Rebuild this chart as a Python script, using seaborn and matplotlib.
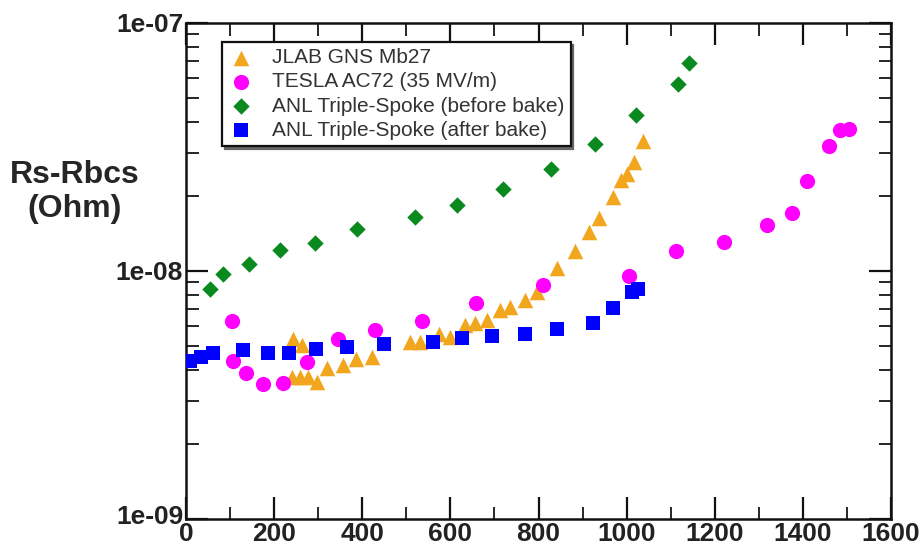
import numpy as np
import pandas as pd
import matplotlib
matplotlib.use("Agg")
import matplotlib.pyplot as plt
import matplotlib.transforms as mtransforms
from matplotlib.ticker import MultipleLocator, LogLocator, FixedLocator, FixedFormatter, NullFormatter
import seaborn as sns

# ---------------- data ----------------
jlab_x = [243, 263, 241, 259, 277, 297, 320, 356, 386, 422, 508, 531, 574, 599, 633, 656,
          683, 713, 735, 769, 797, 842, 883, 915, 937, 969, 987, 1001, 1017, 1037]
jlab_y = [5.32e-9, 5.03e-9, 3.74e-9, 3.74e-9, 3.74e-9, 3.57e-9, 4.06e-9, 4.18e-9, 4.42e-9,
          4.50e-9, 5.18e-9, 5.18e-9, 5.57e-9, 5.42e-9, 6.05e-9, 6.17e-9, 6.34e-9, 6.96e-9,
          7.16e-9, 7.64e-9, 8.23e-9, 1.028e-8, 1.205e-8, 1.436e-8, 1.636e-8, 1.988e-8,
          2.33e-8, 2.46e-8, 2.75e-8, 3.34e-8]

tesla_x = [104, 107, 136, 175, 220, 275, 345, 429, 536, 658, 810, 1005, 1112, 1221, 1319,
           1375, 1409, 1459, 1484, 1505]
tesla_y = [6.29e-9, 4.34e-9, 3.88e-9, 3.50e-9, 3.53e-9, 4.29e-9, 5.32e-9, 5.78e-9, 6.29e-9,
           7.43e-9, 8.79e-9, 9.55e-9, 1.205e-8, 1.31e-8, 1.53e-8, 1.71e-8, 2.31e-8, 3.19e-8,
           3.71e-8, 3.74e-8]

anl_before_x = [54, 84, 143, 213, 293, 388, 520, 615, 719, 828, 928, 1021, 1117, 1142]
anl_before_y = [8.46e-9, 9.72e-9, 1.067e-8, 1.216e-8, 1.297e-8, 1.476e-8, 1.651e-8,
                1.846e-8, 2.14e-8, 2.58e-8, 3.25e-8, 4.26e-8, 5.67e-8, 6.90e-8]

anl_after_x = [9, 34, 61, 129, 186, 234, 295, 365, 449, 561, 626, 694, 769, 842, 924,
               969, 1012, 1026]
anl_after_y = [4.33e-9, 4.50e-9, 4.67e-9, 4.80e-9, 4.67e-9, 4.67e-9, 4.84e-9, 4.94e-9,
               5.08e-9, 5.18e-9, 5.37e-9, 5.47e-9, 5.57e-9, 5.84e-9, 6.17e-9, 7.09e-9,
               8.23e-9, 8.46e-9]

series_labels = ["JLAB GNS Mb27", "TESLA AC72 (35 MV/m)",
                 "ANL Triple-Spoke (before bake)", "ANL Triple-Spoke (after bake)"]
y_tick_values = [1e-9, 1e-8, 1e-7]
y_tick_labels = ["1e-09", "1e-08", "1e-07"]
y_title = "Rs-Rbcs\n(Ohm)"

# ---------------- styling ----------------
series_x = [jlab_x, tesla_x, anl_before_x, anl_after_x]
series_y = [jlab_y, tesla_y, anl_before_y, anl_after_y]
colors = ["#F2A61E", "#FF00FF", "#0A8A1E", "#0000FF"]
markers = ["^", "o", "D", "s"]
sizes = [125, 120, 70, 95]

sns.set_style("ticks")
plt.rcParams["font.family"] = ["Liberation Sans", "DejaVu Sans"]

fig = plt.figure(figsize=(9.21, 5.49), dpi=100)
ax = fig.add_axes([186 / 921, 30 / 549, 705 / 921, 496 / 549])

for xs, ys, c, m, s, lab in zip(series_x, series_y, colors, markers, sizes, series_labels):
    df = pd.DataFrame({"x": xs, "y": ys})
    sns.scatterplot(data=df, x="x", y="y", color=c, marker=m, s=s, linewidth=0,
                    label=lab, ax=ax, zorder=3)

ax.set_yscale("log")
ax.set_xlim(0, 1600)
ax.set_ylim(1e-9, 1e-7)
ax.set_xlabel("")
ax.set_ylabel("")

ax.xaxis.set_major_locator(MultipleLocator(200))
ax.xaxis.set_minor_locator(MultipleLocator(100))
ax.yaxis.set_major_locator(FixedLocator(y_tick_values))
ax.yaxis.set_major_formatter(FixedFormatter(y_tick_labels))
ax.yaxis.set_minor_locator(LogLocator(base=10, subs=np.arange(2, 10)))
ax.yaxis.set_minor_formatter(NullFormatter())

ax.tick_params(axis="both", which="major", direction="in", length=16, width=1.6,
               top=True, right=True, labelsize=19, pad=2, colors="#111111")
ax.tick_params(axis="both", which="minor", direction="in", length=9, width=1.4,
               top=True, right=True)
for lab in ax.get_xticklabels() + ax.get_yticklabels():
    lab.set_fontweight("bold")
    lab.set_color("#222222")

# nudge the corner labels apart slightly (they nearly touch in the reference)
up = mtransforms.ScaledTranslation(0, 5 / 100, fig.dpi_scale_trans)
down = mtransforms.ScaledTranslation(3 / 100, -2 / 100, fig.dpi_scale_trans)
ax.get_yticklabels()[0].set_transform(ax.get_yticklabels()[0].get_transform() + up)
ax.get_xticklabels()[0].set_transform(ax.get_xticklabels()[0].get_transform() + down)

for side in ["left", "right", "top", "bottom"]:
    ax.spines[side].set_visible(True)
    ax.spines[side].set_linewidth(1.8)
    ax.spines[side].set_color("#111111")

leg = ax.legend(loc="upper left", bbox_to_anchor=(0.051, 0.962), fontsize=15,
                frameon=True, fancybox=False, shadow={"color": "#666666", "alpha": 1.0},
                borderpad=0.3, labelspacing=0.25, handletextpad=0.9, handlelength=1.2,
                borderaxespad=0, markerscale=1.0)
leg.get_frame().set_edgecolor("#111111")
leg.get_frame().set_linewidth(1.6)
for t in leg.get_texts():
    t.set_color("#333333")

fig.text(75 / 921, 1 - 192 / 549, y_title, ha="center", va="center",
         fontsize=23, fontweight="bold", linespacing=1.2)

fig.savefig("out.png", dpi=100)
